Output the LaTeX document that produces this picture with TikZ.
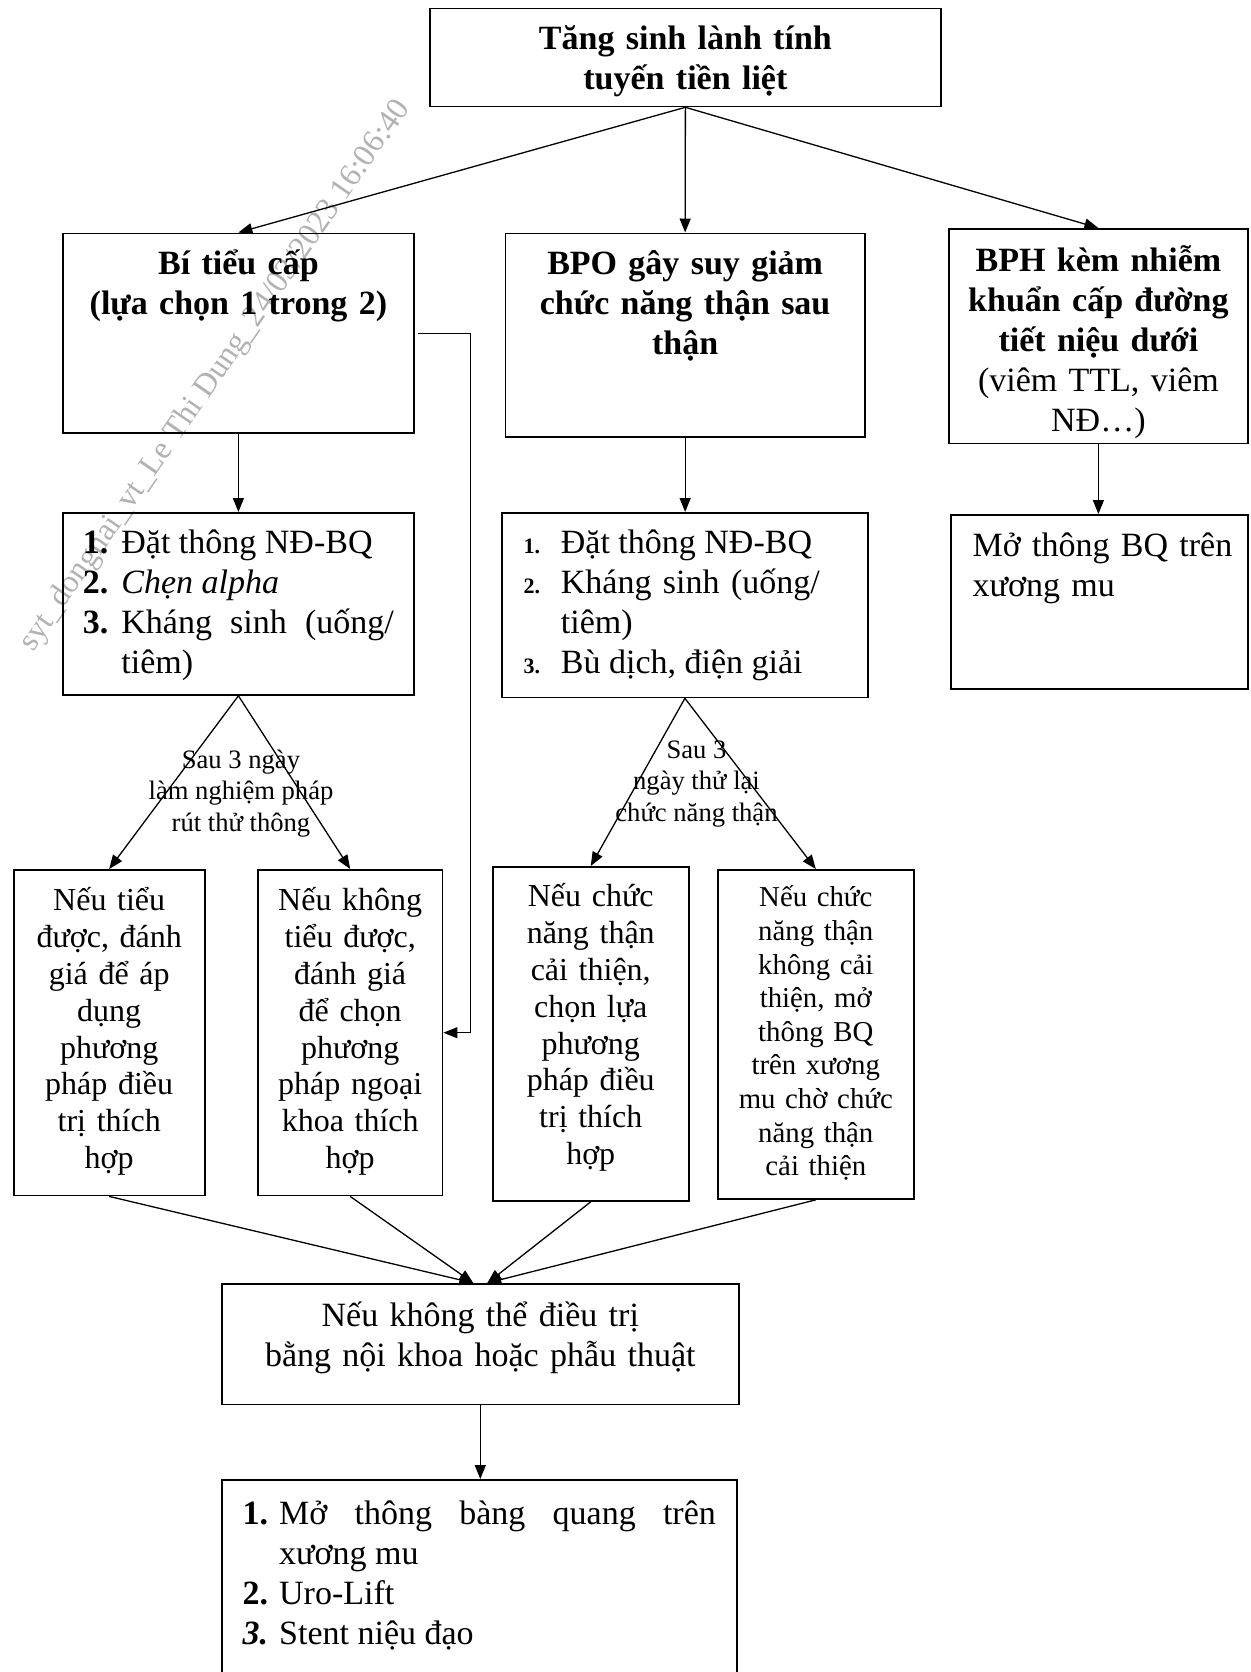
\documentclass[tikz,border=0pt]{standalone}
\usepackage{fontspec}
\setmainfont{Liberation Serif}
\usetikzlibrary{arrows.meta, positioning, calc}

\newcommand{\numitem}[3]{\noindent\hangindent=#1\hangafter=1\makebox[#1][l]{#2}#3\par}
\newcommand{\smallnum}[1]{{\fontsize{11}{13}\selectfont\bfseries #1}}

\begin{document}
\begin{tikzpicture}[
  x=0.5pt, y=-0.5pt,
  every node/.style={font=\fontsize{17}{20}\selectfont},
  box/.style={draw, line width=0.9pt, anchor=north west, inner ysep=0pt, inner xsep=5pt, align=center},
  headbox/.style={box, font=\fontsize{17}{20}\selectfont\bfseries},
  listbox/.style={box, inner xsep=10pt, align=justify},
  smallbox/.style={box, inner xsep=3pt, font=\fontsize{16}{18.4}\selectfont},
  arr/.style={-{Triangle[length=7pt, width=5.5pt]}, line width=0.65pt},
  thinarr/.style={-{Triangle[length=7pt, width=5.5pt]}, line width=0.5pt},
  steplabel/.style={inner sep=0pt, align=center, font=\fontsize{13.3}{15.7}\selectfont},
  watermark/.style={text=gray!60, font=\fontsize{16}{18}\selectfont, inner sep=0pt},
]
\useasboundingbox (0,0) rectangle (1250,1672);

% Watermark
\node[watermark, rotate=55.3] (wm) at (215.5,376) {syt\_dongnai\_vt\_Le Thi Dung\_24/03/2023 16:06:40};

% Root
\node[headbox, text width=245.5pt, text height=20.75pt, text depth=28.25pt] (top) at (429,7.5) {Tăng sinh lành tính\\tuyến tiền liệt};

% First level
\node[headbox, text width=165.5pt, text height=20.5pt, text depth=79.25pt] (bitieu) at (62,232.5) {Bí tiểu cấp\\(lựa chọn 1 trong 2)};
\node[headbox, text width=169.75pt, text height=20.5pt, text depth=81.25pt] (bpo) at (504.5,232.5) {BPO gây suy giảm\\chức năng thận sau\\thận};
\node[box, text width=139.5pt, text height=21.25pt, text depth=86.05pt] (bph) at (948,228) {\textbf{BPH kèm nhiễm}\\\textbf{khuẩn cấp đường}\\\textbf{tiết niệu dưới}\\(viêm TTL, viêm\\NĐ…)};

% Treatment lists
\node[listbox, text width=155.5pt, text height=20.5pt, text depth=70.5pt] (bitieuTx) at (62,512) {%
  \numitem{19.25pt}{\textbf{1.}}{Đặt thông NĐ-BQ}%
  \numitem{19.25pt}{\textbf{2.}}{\textit{Chẹn alpha}}%
  \numitem{19.25pt}{\textbf{3.}}{Kháng sinh (uống/\linebreak tiêm)}};
\node[listbox, inner xsep=10.8pt, text width=161.4pt, text height=20.5pt, text depth=71.75pt] (bpoTx) at (501,512) {\rightskip=13.2pt
  \numitem{18.7pt}{\smallnum{1.}}{Đặt thông NĐ-BQ}%
  \numitem{18.7pt}{\smallnum{2.}}{Kháng sinh (uống/\linebreak tiêm)}%
  \numitem{18.7pt}{\smallnum{3.}}{Bù dịch, điện giải}};
\node[box, align=left, inner xsep=4pt, text width=140.5pt, text height=21pt, text depth=66pt] (bphTx) at (950,514) {\hspace*{6.85pt}Mở thông BQ trên\\\hspace*{6.85pt}xương mu};

% Outcomes after 3 days
\node[smallbox, text width=89.5pt, text height=20.5pt, text depth=142.3pt] (tieuDuoc) at (12.8,869) {Nếu tiểu\\được, đánh\\giá để áp\\dụng\\phương\\pháp điều\\trị thích\\hợp};
\node[smallbox, text width=86.3pt, text height=20.5pt, text depth=142.3pt] (khongTieu) at (257,869) {Nếu không\\tiểu được,\\đánh giá\\để chọn\\phương\\pháp ngoại\\khoa thích\\hợp};
\node[smallbox, text width=92.15pt, text height=20pt, text depth=147pt] (thanTot) at (491.7,866) {Nếu chức\\năng thận\\cải thiện,\\chọn lựa\\phương\\pháp điều\\trị thích\\hợp};
\node[smallbox, text width=92.1pt, text height=18.5pt, text depth=146pt, font=\fontsize{14.4}{16.8}\selectfont] (thanXau) at (716.8,869) {Nếu chức\\năng thận\\không cải\\thiện, mở\\thông BQ\\trên xương\\mu chờ chức\\năng thận\\cải thiện};

\node[steplabel] (rutThong) at (241,793.5) {Sau 3 ngày\\làm nghiệm pháp\\rút thử thông};
\node[steplabel] (thuLai) at (696.5,784) {Sau 3\\ngày thử lại\\chức năng thận};

% Last resort
\node[box, text width=248.6pt, text height=21.5pt, text depth=38.8pt] (noiNgoai) at (220.8,1283) {Nếu không thể điều trị\\bằng nội khoa hoặc phẫu thuật};
\node[listbox, inner xsep=10.5pt, text width=236.6pt, text height=22.5pt, text depth=87.5pt] (cuoi) at (220.8,1479) {%
  \numitem{18.25pt}{\textbf{1.}}{Mở thông bàng quang trên\linebreak xương mu}%
  \numitem{18.25pt}{\textbf{2.}}{Uro-Lift}%
  \numitem{18.25pt}{\textbf{\textit{3.}}}{Stent niệu đạo}};

% Connectors
\draw[arr] (top.south) -- (bitieu.north);
\draw[arr] (top.south) -- (bpo.north);
\draw[arr] (top.south) -- (bph.north);
\draw[arr] (bitieu.south) -- (bitieu.south |- bitieuTx.north);
\draw[arr] (bpo.south) -- (bpo.south |- bpoTx.north);
\draw[arr] (bph.south) -- (bph.south |- bphTx.north);
\draw[arr] (bitieuTx.south) -- (tieuDuoc.north);
\draw[arr] (bitieuTx.south) -- (khongTieu.north);
\draw[arr] (bpoTx.south) -- (thanTot.north);
\draw[arr] (bpoTx.south) -- (thanXau.north);
\draw[thinarr, shorten <=1.5pt] (bitieu.east) -- ++(56,0) |- (khongTieu.east);
\draw[arr] (tieuDuoc.south) -- ([xshift=-3.5pt]noiNgoai.north);
\draw[arr] (khongTieu.south) -- ([xshift=-3.5pt]noiNgoai.north);
\draw[arr] (thanTot.south) -- ([xshift=3.5pt]noiNgoai.north);
\draw[arr] (thanXau.south) -- ([xshift=3.5pt]noiNgoai.north);
\draw[arr] (noiNgoai.south) -- (noiNgoai.south |- cuoi.north);

\end{tikzpicture}
\end{document}
